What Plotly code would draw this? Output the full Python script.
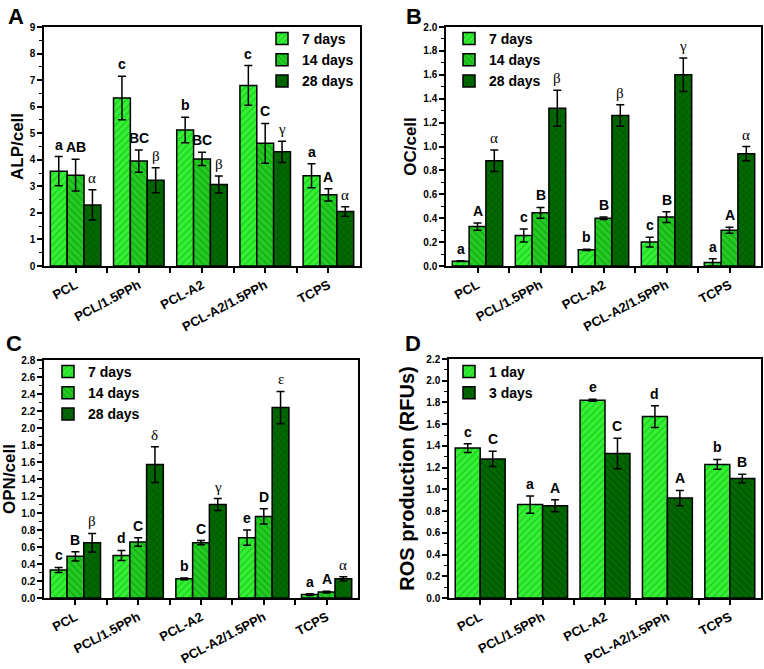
import plotly.graph_objects as go
from plotly.subplots import make_subplots

# ---- data ----
categories = ["PCL", "PCL/1.5PPh", "PCL-A2", "PCL-A2/1.5PPh", "TCPS"]

# A: ALP/cell
alp_7 = [3.57, 6.33, 5.12, 6.80, 3.40]
alp_7_err = [0.55, 0.82, 0.48, 0.75, 0.45]
alp_14 = [3.42, 3.95, 4.03, 4.62, 2.68]
alp_14_err = [0.60, 0.42, 0.25, 0.75, 0.23]
alp_28 = [2.30, 3.23, 3.07, 4.30, 2.05]
alp_28_err = [0.57, 0.47, 0.32, 0.40, 0.18]
alp_labels = [["a", "c", "b", "c", "a"],
              ["AB", "BC", "BC", "C", "A"],
              ["α", "β", "β", "γ", "α"]]

# B: OC/cell
oc_7 = [0.04, 0.255, 0.135, 0.20, 0.03]
oc_7_err = [0.003, 0.055, 0.005, 0.04, 0.03]
oc_14 = [0.33, 0.445, 0.40, 0.41, 0.30]
oc_14_err = [0.03, 0.045, 0.01, 0.045, 0.025]
oc_28 = [0.88, 1.32, 1.26, 1.60, 0.94]
oc_28_err = [0.09, 0.15, 0.09, 0.14, 0.06]
oc_labels = [["a", "c", "b", "c", "a"],
             ["A", "B", "B", "B", "A"],
             ["α", "β", "β", "γ", "α"]]

# C: OPN/cell
opn_7 = [0.33, 0.50, 0.225, 0.71, 0.04]
opn_7_err = [0.03, 0.06, 0.01, 0.09, 0.01]
opn_14 = [0.49, 0.66, 0.65, 0.96, 0.07]
opn_14_err = [0.055, 0.05, 0.025, 0.09, 0.01]
opn_28 = [0.65, 1.57, 1.10, 2.24, 0.225]
opn_28_err = [0.11, 0.21, 0.07, 0.19, 0.025]
opn_labels = [["c", "d", "b", "e", "a"],
              ["B", "C", "C", "D", "A"],
              ["β", "δ", "γ", "ε", "α"]]

# D: ROS production
ros_1 = [1.38, 0.86, 1.82, 1.67, 1.23]
ros_1_err = [0.04, 0.08, 0.01, 0.10, 0.045]
ros_3 = [1.28, 0.85, 1.33, 0.92, 1.10]
ros_3_err = [0.07, 0.055, 0.14, 0.07, 0.04]
ros_labels = [["c", "a", "e", "d", "b"],
              ["C", "A", "C", "A", "B"]]

# ---- styles ----
LIGHT = dict(color="#33f233", fg="#119911", shape="/")
MID = dict(color="#22cc22", fg="#0a7a0a", shape="\\")
DARK = dict(color="#006a00", fg="#003300", shape="x")
DARK_BS = dict(color="#006a00", fg="#003300", shape="\\")

FONT = "Arial, Liberation Sans, sans-serif"
xpos = list(range(len(categories)))

fig = make_subplots(rows=2, cols=2)


def add_bar(name, y, err, style, row, col, legend):
    fig.add_trace(go.Bar(
        x=xpos, y=y, name=name,
        error_y=dict(type="data", array=err, color="black", thickness=1.5, width=4),
        marker=dict(color=style["color"],
                    line=dict(color="black", width=1.5),
                    pattern=dict(shape=style["shape"], fgcolor=style["fg"],
                                 bgcolor=style["color"], size=5, solidity=0.25)),
        legend=legend,
    ), row=row, col=col)


def add_letters(series, errs, labels, n, xref, yref):
    width = 0.8 / n
    for i, (vals, ev, labs) in enumerate(zip(series, errs, labels)):
        off = (i - (n - 1) / 2) * width
        for j, (v, e, t) in enumerate(zip(vals, ev, labs)):
            greek = t in "αβγδε"
            fig.add_annotation(
                x=xpos[j] + off, y=v + e, xref=xref, yref=yref,
                text=t, showarrow=False, yanchor="bottom", yshift=2,
                font=dict(family="Liberation Serif, serif" if greek else FONT,
                          size=15 if greek else 14, color="black",
                          weight="normal" if greek else "bold"))


days3 = ["7 days", "14 days", "28 days"]
for name, y, e, st in zip(days3, [alp_7, alp_14, alp_28], [alp_7_err, alp_14_err, alp_28_err], [LIGHT, MID, DARK]):
    add_bar(name, y, e, st, 1, 1, "legend")
for name, y, e, st in zip(days3, [oc_7, oc_14, oc_28], [oc_7_err, oc_14_err, oc_28_err], [LIGHT, MID, DARK]):
    add_bar(name, y, e, st, 1, 2, "legend2")
for name, y, e, st in zip(days3, [opn_7, opn_14, opn_28], [opn_7_err, opn_14_err, opn_28_err], [LIGHT, MID, DARK]):
    add_bar(name, y, e, st, 2, 1, "legend3")
for name, y, e, st in zip(["1 day", "3 days"], [ros_1, ros_3], [ros_1_err, ros_3_err], [LIGHT, DARK_BS]):
    add_bar(name, y, e, st, 2, 2, "legend4")

add_letters([alp_7, alp_14, alp_28], [alp_7_err, alp_14_err, alp_28_err], alp_labels, 3, "x", "y")
add_letters([oc_7, oc_14, oc_28], [oc_7_err, oc_14_err, oc_28_err], oc_labels, 3, "x2", "y2")
add_letters([opn_7, opn_14, opn_28], [opn_7_err, opn_14_err, opn_28_err], opn_labels, 3, "x3", "y3")
add_letters([ros_1, ros_3], [ros_1_err, ros_3_err], ros_labels, 2, "x4", "y4")

W, H = 764, 669
boxes = {1: (44, 360, 27, 266), 2: (446, 761, 27, 266),
         3: (44, 358, 360, 598), 4: (449, 761, 359, 598)}
ranges = {1: (9, 1, "ALP/cell", 17), 2: (2.0, 0.2, "OC/cell", 17),
          3: (2.8, 0.2, "OPN/cell", 17), 4: (2.2, 0.2, "ROS production (RFUs)", 20)}

for k, (x0, x1, y0, y1) in boxes.items():
    sfx = "" if k == 1 else str(k)
    top, dt, title, tsize = ranges[k]
    fig.layout["xaxis" + sfx].update(
        domain=[x0 / W, x1 / W], range=[-0.5, 4.5], automargin=False,
        tickvals=xpos, ticktext=categories, tickangle=-28,
        tickfont=dict(family=FONT, size=13, color="black", weight="bold"),
        ticks="outside", ticklen=5, tickwidth=1.5, tickcolor="black",
        minor=dict(tickvals=[p + 0.5 for p in xpos[:-1]], ticks="outside",
                   ticklen=5, tickwidth=1.5, tickcolor="black"),
        showline=True, linewidth=1.5, linecolor="black", mirror=True,
        showgrid=False, zeroline=False)
    fig.layout["yaxis" + sfx].update(
        domain=[1 - y1 / H, 1 - y0 / H], range=[0, top], dtick=dt, automargin=False,
        tickformat=".0f" if k == 1 else ".1f",
        tickfont=dict(family=FONT, size=10, color="black", weight="bold"),
        ticks="outside", ticklen=5, tickwidth=1.5, tickcolor="black",
        minor=dict(dtick=dt / 2, ticks="outside", ticklen=3, tickwidth=1.2,
                   tickcolor="black"),
        showline=True, linewidth=1.5, linecolor="black", mirror=True,
        showgrid=False, zeroline=False,
        title=dict(text=title, standoff=2 if k != 4 else 6,
                   font=dict(family=FONT, size=tsize, color="black", weight="bold")))

legend_style = dict(font=dict(family=FONT, size=14, color="black", weight="bold"),
                    bgcolor="rgba(0,0,0,0)", xanchor="left", yanchor="top",
                    tracegroupgap=0, itemwidth=30, traceorder="normal")
fig.update_layout(
    legend=dict(x=262 / W, y=1 - 23 / H, **legend_style),
    legend2=dict(x=449 / W, y=1 - 23 / H, **legend_style),
    legend3=dict(x=48 / W, y=1 - 356 / H, **legend_style),
    legend4=dict(x=449 / W, y=1 - 356 / H, **legend_style),
)

for letter, px, py in [("A", 16, 16), ("B", 414, 16), ("C", 14, 343), ("D", 413, 343)]:
    fig.add_annotation(x=px / W, y=1 - py / H, xref="paper", yref="paper",
                       text=letter, showarrow=False, xanchor="center", yanchor="middle",
                       font=dict(family=FONT, size=22, color="black", weight="bold"))

fig.update_layout(
    width=W, height=H, margin=dict(l=0, r=0, t=0, b=0, pad=0, autoexpand=False),
    paper_bgcolor="white", plot_bgcolor="white",
    barmode="group", bargap=0.2, bargroupgap=0,
    showlegend=True,
)

# drop the browser's default 8px body margin so the figure sits at (0, 0)
fig.write_html("out.html", config={"displayModeBar": False},
               post_script="document.body.style.margin='0';")
